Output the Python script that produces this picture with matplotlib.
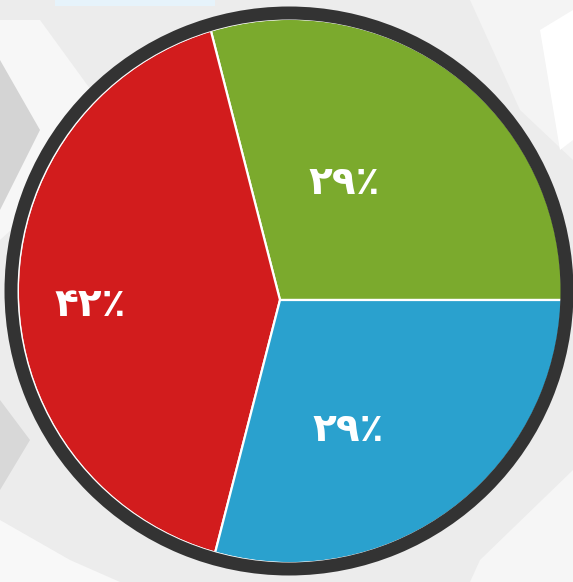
import matplotlib
matplotlib.use("Agg")
import matplotlib.pyplot as plt
from matplotlib.patches import Circle, Wedge, Polygon

# data
labels = ["۲۹٪", "۴۲٪", "۲۹٪"]
values = [29, 42, 29]
colors = ["#7BAA2D", "#D21C1D", "#2AA1CE"]

W, H = 573, 582
fig = plt.figure(figsize=(W / 100, H / 100), dpi=100)
fig.patch.set_facecolor("#ececec")
ax = fig.add_axes([0, 0, 1, 1])
ax.set_facecolor("#ececec")

def py(y):
    return H - y

# background decoration (light geometric shapes)
bg_shapes = [
    ([(0, 20), (40, 20), (120, 130), (0, 240)], "#f7f7f7"),
    ([(0, 60), (40, 130), (0, 210)], "#d4d4d4"),
    ([(0, 400), (30, 440), (0, 490)], "#d8d8d8"),
    ([(0, 520), (70, 560), (120, 582), (0, 582)], "#f8f8f8"),
    ([(470, 0), (573, 0), (573, 160), (520, 110)], "#f4f4f4"),
    ([(540, 30), (573, 10), (573, 140), (560, 150)], "#ffffff"),
    ([(480, 560), (573, 470), (573, 582), (470, 582)], "#f6f6f6"),
    ([(55, 0), (215, 0), (215, 6), (55, 6)], "#e6f3fb"),
]
for pts, c in bg_shapes:
    ax.add_patch(Polygon([(x, py(y)) for x, y in pts], closed=True,
                         facecolor=c, edgecolor="none", zorder=0))

wedges, texts = ax.pie(values, colors=colors, startangle=0, counterclock=True,
                       center=(280, py(300)), radius=300,
                       wedgeprops=dict(edgecolor="white", linewidth=1.6),
                       frame=True)

ax.set_xlim(0, W)
ax.set_ylim(0, H)
ax.set_aspect("auto")
ax.axis("off")

clip = Circle((290, py(291)), 271, facecolor="none", edgecolor="none",
              transform=ax.transData)
ax.add_patch(clip)
for w in wedges:
    w.set_clip_on(True)
    w.set_clip_path(clip)
    w.set_zorder(2)

# border ring
ax.add_patch(Circle((290, py(291)), 272, facecolor="none", edgecolor="white",
                    linewidth=1.2, zorder=3))
ax.add_patch(Wedge((289, py(291)), 284.5, 0, 360, width=13,
                   facecolor="#333333", edgecolor="none", zorder=4))

label_pos = [(344, 183), (90, 305), (348, 430)]
for (x, y), t in zip(label_pos, labels):
    ax.text(x, py(y), t, color="white", fontsize=28, fontweight="bold",
            family=["DejaVu Sans"], ha="center", va="center", zorder=5)

fig.savefig("out.png", dpi=100, facecolor=fig.get_facecolor())
